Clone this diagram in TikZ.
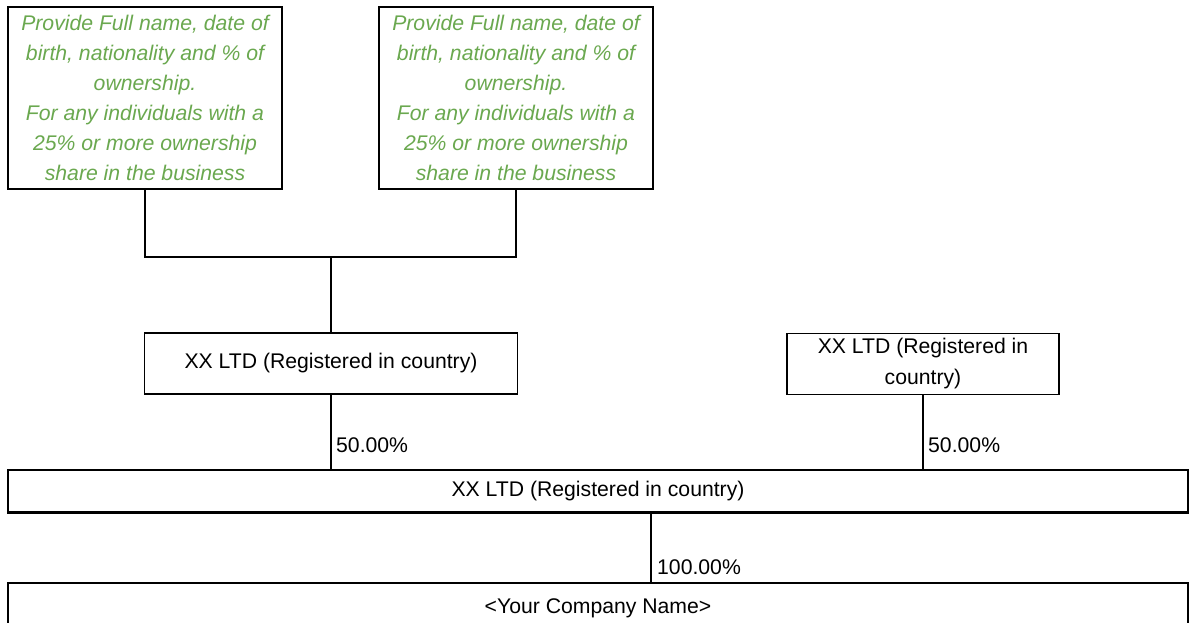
\documentclass[tikz,border=0pt]{standalone}
\usepackage{fontspec}
\setmainfont{Liberation Sans}
\usetikzlibrary{calc}
\definecolor{notegreen}{HTML}{6AA84F}
\begin{document}
\begin{tikzpicture}[x=1pt,y=-1pt,
  box/.style={draw=black,line width=1.5pt,inner sep=0pt,align=center,
    font=\fontsize{21.2}{31}\selectfont},
  note/.style={box,text=notegreen,font=\fontsize{21.2}{30}\selectfont\itshape},
  link/.style={draw=black,line width=1.3pt},
  pct/.style={anchor=west,inner sep=0pt,font=\fontsize{21.2}{24}\selectfont}]
\useasboundingbox (0,0) rectangle (1195,623);
\node[note,minimum width=274,minimum height=182] (p1) at (145,98)
  {Provide Full name, date of\\birth, nationality and \% of\\ownership.\\For any individuals with a\\25\% or more ownership\\share in the business};
\node[note,minimum width=274,minimum height=182] (p2) at (516,98)
  {Provide Full name, date of\\birth, nationality and \% of\\ownership.\\For any individuals with a\\25\% or more ownership\\share in the business};
\node[box,minimum width=373,minimum height=61] (c1) at (331,363.5) {\raisebox{-2pt}{XX LTD (Registered in country)}};
\node[box,minimum width=272,minimum height=61] (c2) at (923,364) {XX LTD (Registered in\\country)};
\node[box,minimum width=1180,minimum height=42] (h) at (598,491) {XX LTD (Registered in country)};
\node[box,minimum width=1180,minimum height=50] (y) at (598,608) {\raisebox{3pt}{<Your Company Name>}};
\draw[line width=2.5pt] (h.south west) -- (h.south east);
\coordinate (j) at (331,257);
\draw[link] (p1.south) |- (j) -| (p2.south);
\draw[link] (j) -- (c1.north);
\draw[link] (c1.south) -- (c1.south |- h.north) coordinate (e1);
\draw[link] (c2.south) -- (c2.south |- h.north) coordinate (e2);
\coordinate (hx) at (651,512);
\draw[link] (hx) -- (hx |- y.north) coordinate (e3);
\node[pct] (l1) at ($(e1)+(5,-24)$) {50.00\%};
\node[pct] (l2) at ($(e2)+(5,-24)$) {50.00\%};
\node[pct] (l3) at ($(e3)+(6,-15)$) {100.00\%};
\end{tikzpicture}
\end{document}
